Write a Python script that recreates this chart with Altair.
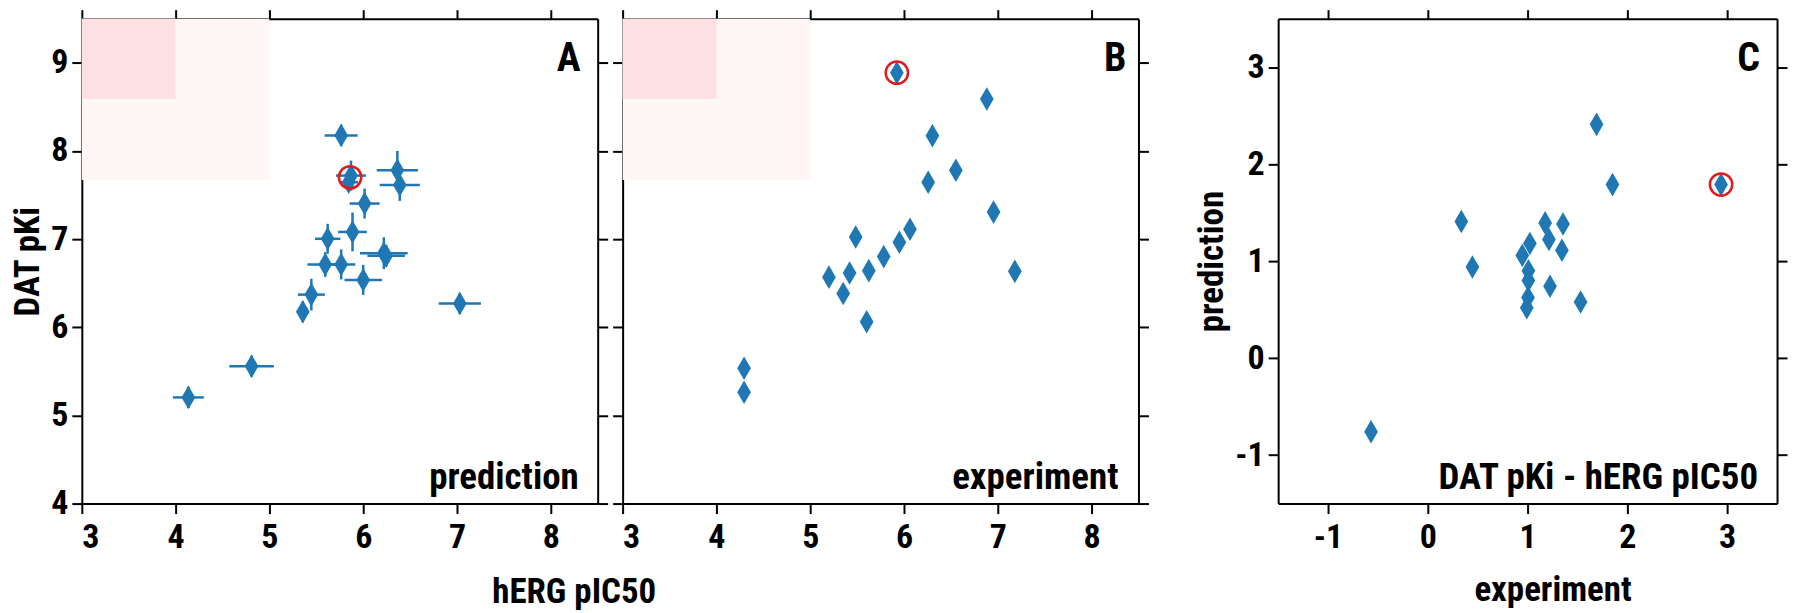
import altair as alt
import pandas as pd

FONT = "Roboto Condensed, PT Sans Narrow, Liberation Sans, Arial, sans-serif"
BLUE = "#1f77b4"
RED = "#e3191c"
DIAMOND = "M0,-1L0.58,0L0,1L-0.58,0Z"

# ---------------- data ----------------
# Panel A: predicted values (hERG pIC50, DAT pKi) with uncertainties
pred_herg = [5.765, 5.87, 5.845, 6.364, 6.39, 6.015, 5.886, 5.621, 6.22, 6.245,
             5.595, 5.765, 6.0, 5.447, 5.356, 7.03, 4.81, 4.136]
pred_dat = [8.176, 7.72, 7.645, 7.78, 7.613, 7.403, 7.081, 7.003, 6.84, 6.81,
            6.712, 6.712, 6.537, 6.37, 6.176, 6.269, 5.558, 5.204]
pred_herg_err = [0.176, 0.16, 0.10, 0.22, 0.214, 0.16, 0.153, 0.135, 0.254, 0.20,
                 0.19, 0.15, 0.20, 0.144, 0.06, 0.225, 0.237, 0.165]
pred_dat_err = [0.12, 0.17, 0.10, 0.22, 0.18, 0.17, 0.22, 0.17, 0.18, 0.12,
                0.14, 0.17, 0.17, 0.18, 0.12, 0.12, 0.12, 0.12]

# Panel B: experimental values
exp_herg = [5.924, 6.883, 6.303, 6.553, 6.258, 6.955, 6.064, 5.951, 5.485, 5.784,
            5.625, 5.42, 5.2, 7.182, 5.352, 5.602, 4.295, 4.295]
exp_dat = [8.887, 8.588, 8.172, 7.78, 7.644, 7.306, 7.112, 6.964, 7.023, 6.801,
           6.642, 6.615, 6.568, 6.634, 6.382, 6.063, 5.535, 5.263]

# Panel C: DAT pKi - hERG pIC50, experiment vs prediction
diff_exp = [1.691, 1.851, 2.939, 0.336, 1.176, 1.355, 1.214, 1.023, 1.344, 0.947,
            0.447, 1.008, 1.008, 1.225, 1.004, 1.531, 0.992, -0.569]
diff_pred = [2.41, 1.789, 1.789, 1.408, 1.394, 1.383, 1.224, 1.182, 1.112, 1.059,
             0.939, 0.9, 0.801, 0.741, 0.624, 0.579, 0.519, -0.759]

# shaded target regions (panels A and B)
shade_x0 = [3, 3]
shade_x1 = [5, 4]
shade_y0 = [7.67, 8.59]
shade_y1 = [9.5, 9.5]
shade_fill = ["#fff6f6", "#fde1e2"]

# highlighted compound
mark_a = ([5.86], [7.70])
mark_b = ([5.924], [8.887])
mark_c = ([2.939], [1.789])

ticks_ab_x = [3, 4, 5, 6, 7, 8]
ticks_ab_y = [4, 5, 6, 7, 8, 9]
ticks_c = [-1, 0, 1, 2, 3]

# ---------------- frames ----------------
dfA = pd.DataFrame({"x": pred_herg, "y": pred_dat})
dfA["xlo"] = [v - e for v, e in zip(pred_herg, pred_herg_err)]
dfA["xhi"] = [v + e for v, e in zip(pred_herg, pred_herg_err)]
dfA["ylo"] = [v - e for v, e in zip(pred_dat, pred_dat_err)]
dfA["yhi"] = [v + e for v, e in zip(pred_dat, pred_dat_err)]
dfB = pd.DataFrame({"x": exp_herg, "y": exp_dat})
dfC = pd.DataFrame({"x": diff_exp, "y": diff_pred})
shade = pd.DataFrame({"x0": shade_x0, "x1": shade_x1, "y0": shade_y0,
                      "y1": shade_y1, "fill": shade_fill})
one = pd.DataFrame({"k": [0]})

W_AB, W_C, H = 517, 500, 486
HYPHEN = "toString(datum.value)"


def panel(df, xdom, ydom, tx, ty, width, bottom_axis, left_axis, letter,
          letter_dx, caption, caption_dx, hl, errors=False, shaded=False):
    sx = alt.Scale(domain=xdom, nice=False, zero=False)
    sy = alt.Scale(domain=ydom, nice=False, zero=False)
    layers = []
    if shaded:
        layers.append(
            alt.Chart(shade).mark_rect().encode(
                x=alt.X("x0:Q", scale=sx, axis=None), x2="x1:Q",
                y=alt.Y("y0:Q", scale=sy, axis=None), y2="y1:Q",
                color=alt.Color("fill:N", scale=None)))
    # main axes (bottom / left)
    layers.append(
        alt.Chart(df).mark_point(opacity=0).encode(
            x=alt.X("x:Q", scale=sx, axis=bottom_axis),
            y=alt.Y("y:Q", scale=sy, axis=left_axis)))
    # mirrored axes (top / right), ticks only
    layers.append(
        alt.Chart(df).mark_point(opacity=0).encode(
            x=alt.X("x:Q", scale=sx, axis=alt.Axis(orient="top", values=tx, labels=False,
                                                   title=None, tickSize=9)),
            y=alt.Y("y:Q", scale=sy, axis=alt.Axis(orient="right", values=ty, labels=False,
                                                   title=None))))
    if errors:
        layers.append(
            alt.Chart(df).mark_rule(color=BLUE, strokeWidth=2.5).encode(
                x=alt.X("xlo:Q", scale=sx, axis=None), x2="xhi:Q",
                y=alt.Y("y:Q", scale=sy, axis=None)))
        layers.append(
            alt.Chart(df).mark_rule(color=BLUE, strokeWidth=2.5).encode(
                x=alt.X("x:Q", scale=sx, axis=None),
                y=alt.Y("ylo:Q", scale=sy, axis=None), y2="yhi:Q"))
    layers.append(
        alt.Chart(df).mark_point(shape=DIAMOND, filled=True, size=560, color=BLUE,
                                 opacity=1, strokeWidth=0).encode(
            x=alt.X("x:Q", scale=sx, axis=None),
            y=alt.Y("y:Q", scale=sy, axis=None)))
    hdf = pd.DataFrame({"x": hl[0], "y": hl[1]})
    layers.append(
        alt.Chart(hdf).mark_point(shape="circle", filled=False, size=500, color=RED,
                                  opacity=1, strokeWidth=2.5).encode(
            x=alt.X("x:Q", scale=sx, axis=None),
            y=alt.Y("y:Q", scale=sy, axis=None)))
    layers.append(
        alt.Chart(one).mark_text(text=letter, align="right", baseline="alphabetic",
                                 font=FONT, fontSize=40, fontWeight="bold",
                                 color="black").encode(
            x=alt.value(width - letter_dx), y=alt.value(52)))
    layers.append(
        alt.Chart(one).mark_text(text=caption, align="right", baseline="alphabetic",
                                 font=FONT, fontSize=37, fontWeight="bold",
                                 color="black").encode(
            x=alt.value(width - caption_dx), y=alt.value(471)))
    return alt.layer(*layers).resolve_axis(x="independent", y="independent").properties(
        width=width, height=H)


A = panel(
    dfA, [3, 8.5], [4, 9.5], ticks_ab_x, ticks_ab_y, W_AB,
    alt.Axis(orient="bottom", values=ticks_ab_x, title="hERG pIC50", labelPadding=7,
             titleX=493, titleY=99, titleAlign="center", titleBaseline="alphabetic"),
    alt.Axis(orient="left", values=ticks_ab_y, title="DAT pKi", labelPadding=4,
             titleAngle=270, titleX=-43, titleY=H / 2, titleAlign="center",
             titleBaseline="alphabetic"),
    "A", 17, "prediction", 19, mark_a, errors=True, shaded=True)

B = panel(
    dfB, [3, 8.5], [4, 9.5], ticks_ab_x, ticks_ab_y, W_AB,
    alt.Axis(orient="bottom", values=ticks_ab_x, title=None, labelPadding=7),
    alt.Axis(orient="left", values=ticks_ab_y, title=None, labels=False),
    "B", 12, "experiment", 20, mark_b, shaded=True)

C = panel(
    dfC, [-1.5, 3.5], [-1.5, 3.5], ticks_c, ticks_c, W_C,
    alt.Axis(orient="bottom", values=ticks_c, title="experiment", labelPadding=7,
             labelExpr=HYPHEN,
             titleX=275, titleY=97, titleAlign="center", titleBaseline="alphabetic"),
    alt.Axis(orient="left", values=ticks_c, title="prediction", labelPadding=4,
             labelExpr=HYPHEN,
             titleAngle=270, titleX=-56, titleY=H / 2, titleAlign="center",
             titleBaseline="alphabetic"),
    "C", 17, "DAT pKi - hERG pIC50", 19, mark_c)

spacer = alt.Chart(one).mark_point(opacity=0).encode(
    x=alt.value(0), y=alt.value(0)).properties(width=90, height=H)

chart = alt.hconcat(A, B, spacer, C, spacing=25, bounds="flush").properties(
    padding={"left": 3, "top": 0, "right": 4, "bottom": 8}
).configure_view(stroke=None).configure_axis(
    domainColor="black", domainWidth=2, tickColor="black", tickWidth=2, tickSize=10,
    labelFont=FONT, labelFontSize=34, labelFontWeight="bold", labelColor="black",
    titleFont=FONT, titleFontSize=35, titleFontWeight="bold", titleColor="black",
    grid=False)

chart.save("out.html", embed_options={"renderer": "svg", "actions": False})
